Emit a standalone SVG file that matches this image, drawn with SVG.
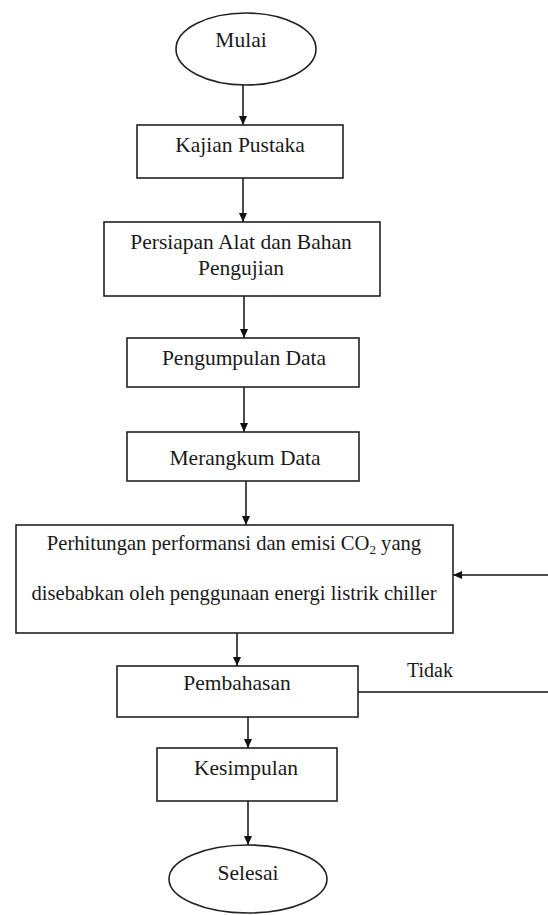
<svg xmlns="http://www.w3.org/2000/svg" width="548" height="915" viewBox="0 0 548 915">
<defs>
<marker id="ah" markerWidth="10" markerHeight="10" refX="9" refY="5" orient="auto" markerUnits="userSpaceOnUse">
<path d="M0,1 L9,5 L0,9 z" fill="#111"/>
</marker>
<style>
.n{fill:#fff;stroke:#222;stroke-width:1.6}
.t{font-family:"Liberation Serif","Times New Roman",serif;font-size:21.5px;fill:#1a1a1a;text-anchor:middle}
.c{stroke:#111;stroke-width:1.5;fill:none}
</style>
</defs>
<rect width="548" height="915" fill="#fff"/>
<g id="connectors">
<line class="c" x1="243" y1="85" x2="243" y2="125" marker-end="url(#ah)"/>
<line class="c" x1="243" y1="178" x2="243" y2="222" marker-end="url(#ah)"/>
<line class="c" x1="244" y1="296" x2="244" y2="338" marker-end="url(#ah)"/>
<line class="c" x1="244" y1="387" x2="244" y2="432" marker-end="url(#ah)"/>
<line class="c" x1="246" y1="481" x2="246" y2="525" marker-end="url(#ah)"/>
<line class="c" x1="237" y1="633" x2="237" y2="666" marker-end="url(#ah)"/>
<line class="c" x1="248" y1="717" x2="248" y2="748" marker-end="url(#ah)"/>
<line class="c" x1="248" y1="801" x2="248" y2="845" marker-end="url(#ah)"/>
<line class="c" x1="358" y1="692" x2="548" y2="692"/>
<line class="c" x1="548" y1="575" x2="453" y2="575" marker-end="url(#ah)"/>
<text class="t" x="430" y="677" style="font-size:20px">Tidak</text>
</g>
<g id="mulai">
<ellipse class="n" cx="246" cy="49" rx="70" ry="36"/>
<text class="t" x="241" y="47">Mulai</text>
</g>
<g id="kajian">
<rect class="n" x="137" y="125" width="206" height="53"/>
<text class="t" x="240" y="152">Kajian Pustaka</text>
</g>
<g id="persiapan">
<rect class="n" x="104" y="222" width="276" height="74"/>
<text class="t" x="241" y="249">Persiapan Alat dan Bahan</text>
<text class="t" x="241" y="275">Pengujian</text>
</g>
<g id="pengumpulan">
<rect class="n" x="127" y="338" width="232" height="49"/>
<text class="t" x="244" y="365">Pengumpulan Data</text>
</g>
<g id="merangkum">
<rect class="n" x="127" y="432" width="232" height="49"/>
<text class="t" x="245" y="465">Merangkum Data</text>
</g>
<g id="perhitungan">
<rect class="n" x="16" y="525" width="437" height="108"/>
<text class="t" x="234" y="550" style="font-size:20.6px">Perhitungan performansi dan emisi CO<tspan font-size="13" dy="4">2</tspan><tspan dy="-4"> yang</tspan></text>
<text class="t" x="234" y="600" style="font-size:20.6px">disebabkan oleh penggunaan energi listrik chiller</text>
</g>
<g id="pembahasan">
<rect class="n" x="117" y="666" width="241" height="51"/>
<text class="t" x="237" y="690">Pembahasan</text>
</g>
<g id="kesimpulan">
<rect class="n" x="157" y="748" width="180" height="53"/>
<text class="t" x="246" y="775">Kesimpulan</text>
</g>
<g id="selesai">
<ellipse class="n" cx="248" cy="879" rx="79" ry="34"/>
<text class="t" x="248" y="880">Selesai</text>
</g>
</svg>
